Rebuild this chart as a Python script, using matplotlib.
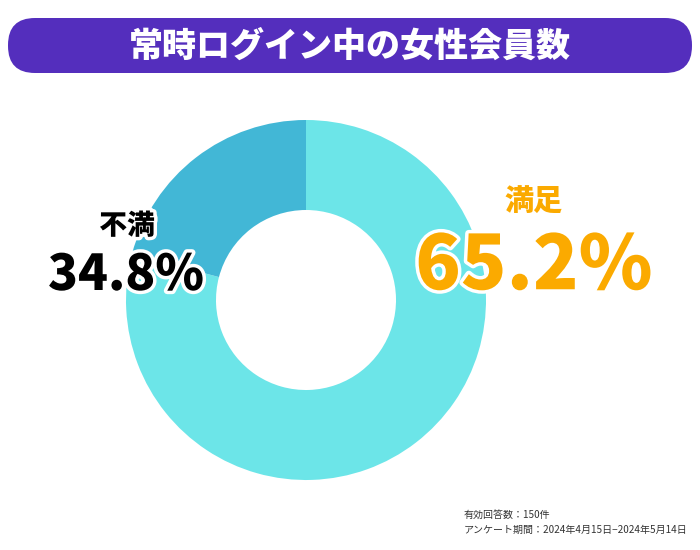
import matplotlib
matplotlib.use("Agg")
import matplotlib.pyplot as plt
import matplotlib.patheffects as pe
from matplotlib.patches import FancyBboxPatch

plt.rcParams['font.family'] = ['Noto Sans CJK JP', 'DejaVu Sans']

# data
categories = ['満足', '不満']
percents = [65.2, 34.8]          # printed labels
ring_shares = [79.1, 20.9]       # share of the ring as drawn in the picture
colors = ['#6ce5e8', '#42b7d6']
title = '常時ログイン中の女性会員数'
notes = ['有効回答数：150件', 'アンケート期間：2024年4月15日−2024年5月14日']

W, H = 700, 550
fig = plt.figure(figsize=(W / 100, H / 100), dpi=100)

# donut, centre (306, 300) px, radius 180 px
cx, cy, r = 306, 300, 180
pax = fig.add_axes([(cx - r) / W, (H - cy - r) / H, 2 * r / W, 2 * r / H])
pax.pie(ring_shares, colors=colors, startangle=90, counterclock=False,
        radius=1, wedgeprops=dict(width=0.5, linewidth=0))
pax.set_xlim(-1, 1)
pax.set_ylim(-1, 1)
pax.set_aspect('equal')
pax.axis('off')

# overlay in pixel coordinates
ax = fig.add_axes([0, 0, 1, 1], zorder=5)
ax.set_xlim(0, W)
ax.set_ylim(H, 0)
ax.axis('off')
ax.patch.set_alpha(0)

bar = FancyBboxPatch((8, 18), 684, 55, boxstyle='round,pad=0,rounding_size=27',
                     facecolor='#542ebd', edgecolor='none')
ax.add_patch(bar)
ax.text(350, 46, title, color='white', fontsize=24.5, fontweight='black',
        ha='center', va='center')

stroke = [pe.withStroke(linewidth=5, foreground='white')]

ax.text(534, 201, categories[0], color='#fbaa00', fontsize=21, fontweight='black',
        ha='center', va='center')
ax.text(534, 267, f'{percents[0]}%', color='#fbaa00', fontsize=54, fontweight='black',
        ha='center', va='center', path_effects=stroke)

ax.text(127, 226, categories[1], color='black', fontsize=20, fontweight='black',
        ha='center', va='center', path_effects=stroke)
ax.text(126, 275, f'{percents[1]}%', color='black', fontsize=35.5, fontweight='black',
        ha='center', va='center', path_effects=stroke)

ax.text(464, 515, notes[0], color='#333333', fontsize=7.2, ha='left', va='center')
ax.text(464, 530, notes[1], color='#333333', fontsize=7.2, ha='left', va='center')

fig.savefig('out.png', dpi=100)
